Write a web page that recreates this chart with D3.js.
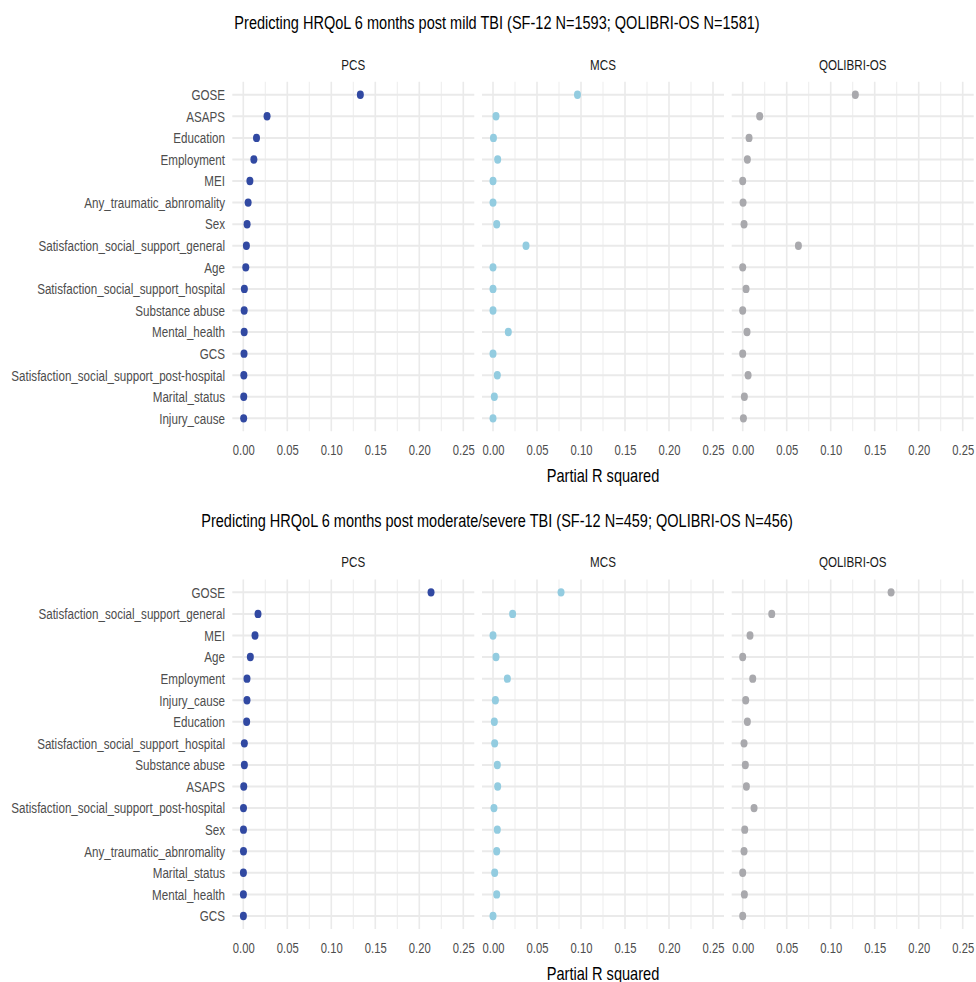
<!DOCTYPE html>
<html>
<head>
<meta charset="utf-8">
<script src="https://cdn.jsdelivr.net/npm/d3@7"></script>
<style>
  body { margin: 0; background: #ffffff; }
  text { font-family: "Liberation Sans", Arial, Helvetica, sans-serif; }
</style>
</head>
<body>
<svg id="chart" width="976" height="982"></svg>
<script>
// ---- data ----------------------------------------------------------------
const outcomes = ["PCS", "MCS", "QOLIBRI-OS"];
const xTicks = [0, 0.05, 0.10, 0.15, 0.20, 0.25];
const axisTitle = "Partial R squared";

const mildTitle = "Predicting HRQoL 6 months post mild TBI (SF-12 N=1593; QOLIBRI-OS N=1581)";
const mildPredictors = ["GOSE", "ASAPS", "Education", "Employment", "MEI",
  "Any_traumatic_abnromality", "Sex", "Satisfaction_social_support_general", "Age",
  "Satisfaction_social_support_hospital", "Substance abuse", "Mental_health", "GCS",
  "Satisfaction_social_support_post-hospital", "Marital_status", "Injury_cause"];
const mildPCS = [0.133, 0.027, 0.015, 0.012, 0.0075, 0.0055, 0.0043, 0.0035, 0.0028,
  0.0012, 0.001, 0.001, 0.0008, 0.0006, 0.0005, 0.0004];
const mildMCS = [0.096, 0.0034, 0.0005, 0.0053, 0.0, 0.0, 0.0042, 0.0375, 0.0,
  0.0, 0.0, 0.0174, 0.0, 0.0049, 0.0015, 0.0];
const mildQOL = [0.128, 0.0193, 0.0072, 0.0053, 0.0, 0.0004, 0.0015, 0.0633, 0.0,
  0.0038, 0.0, 0.0049, 0.0, 0.0061, 0.0019, 0.0008];

const sevTitle = "Predicting HRQoL 6 months post moderate/severe TBI (SF-12 N=459; QOLIBRI-OS N=456)";
const sevPredictors = ["GOSE", "Satisfaction_social_support_general", "MEI", "Age",
  "Employment", "Injury_cause", "Education", "Satisfaction_social_support_hospital",
  "Substance abuse", "ASAPS", "Satisfaction_social_support_post-hospital", "Sex",
  "Any_traumatic_abnromality", "Marital_status", "Mental_health", "GCS"];
const sevPCS = [0.2133, 0.0167, 0.0133, 0.008, 0.0042, 0.0042, 0.0038, 0.0012,
  0.0012, 0.0005, 0.0002, 0.0002, 0.0002, 0.0001, 0.0001, 0.0001];
const sevMCS = [0.0773, 0.0223, 0.0, 0.0034, 0.0163, 0.0027, 0.0015, 0.0019,
  0.0049, 0.0053, 0.0011, 0.0049, 0.0042, 0.0019, 0.0042, 0.0];
const sevQOL = [0.1686, 0.033, 0.0083, 0.0, 0.0114, 0.0034, 0.0053, 0.0015,
  0.003, 0.0042, 0.0129, 0.0023, 0.0015, 0.0, 0.0019, 0.0];

const dotColors = ["#3149A2", "#93CCE0", "#A9A9AD"];

// ---- layout --------------------------------------------------------------
const svg = d3.select("#chart");
const panelW = 242, stride = 249.7, panelLeft = 232.3;
const panelTop = 81.8, panelBottom = 431.3;

const x = d3.scaleLinear().domain([-0.0125, 0.2625]).range([0, panelW]);
const minorTicks = d3.range(0.025, 0.26, 0.05);

// lettering is drawn slightly condensed horizontally
function label(g, px, py, s, size, color, sx) {
  return g.append("text")
    .attr("transform", `translate(${px},${py}) scale(${sx},1)`)
    .attr("text-anchor", "middle")
    .attr("font-size", size)
    .attr("fill", color)
    .text(s);
}

function drawBlock(title, predictors, series, top) {
  const g = svg.append("g").attr("transform", `translate(0,${top})`);
  const y = d3.scalePoint().domain(predictors).range([panelTop, panelBottom]).padding(0.6);

  label(g, 497, 29, title, 18.5, "#000000", 0.785);

  outcomes.forEach((name, i) => {
    const p = g.append("g").attr("transform", `translate(${panelLeft + i * stride},0)`);

    // grid
    p.selectAll("line.minor").data(minorTicks).join("line")
      .attr("x1", d => x(d)).attr("x2", d => x(d))
      .attr("y1", panelTop).attr("y2", panelBottom)
      .attr("stroke", "#EEEEEE").attr("stroke-width", 1.1);
    p.selectAll("line.major").data(xTicks).join("line")
      .attr("x1", d => x(d)).attr("x2", d => x(d))
      .attr("y1", panelTop).attr("y2", panelBottom)
      .attr("stroke", "#EAEAEA").attr("stroke-width", 1.6);
    p.selectAll("line.row").data(predictors).join("line")
      .attr("x1", 0).attr("x2", panelW)
      .attr("y1", d => y(d)).attr("y2", d => y(d))
      .attr("stroke", "#EAEAEA").attr("stroke-width", 2);

    // facet strip
    label(p, panelW / 2, 69.5, name, 14.5, "#1A1A1A", 0.8);

    // points
    p.selectAll("ellipse").data(predictors.map((d, k) => ({ d, v: series[i][k] }))).join("ellipse")
      .attr("cx", d => x(d.v)).attr("cy", d => y(d.d))
      .attr("rx", 3.5).attr("ry", 4.2)
      .attr("fill", dotColors[i]);

    // x axis
    const ax = p.append("g").attr("transform", `translate(0,${panelBottom})`)
      .call(d3.axisBottom(x).tickValues(xTicks).tickFormat(d3.format(".2f"))
        .tickSize(0).tickPadding(13.5));
    ax.select(".domain").remove();
    ax.selectAll("text")
      .attr("transform", "scale(0.775,1)")
      .attr("font-size", 14.5).attr("fill", "#4D4D4D")
      .attr("font-family", "Liberation Sans, Arial, sans-serif");
  });

  // y axis (predictor names)
  const ay = g.append("g").attr("transform", `translate(${panelLeft},0)`)
    .call(d3.axisLeft(y).tickSize(0).tickPadding(9.4));
  ay.select(".domain").remove();
  ay.selectAll("text")
    .attr("transform", "scale(0.775,1)")
    .attr("font-size", 15).attr("fill", "#4D4D4D")
    .attr("font-family", "Liberation Sans, Arial, sans-serif");

  label(g, panelLeft + (2 * stride + panelW) / 2, 482, axisTitle, 18, "#000000", 0.81);
}

drawBlock(mildTitle, mildPredictors, [mildPCS, mildMCS, mildQOL], 0);
drawBlock(sevTitle, sevPredictors, [sevPCS, sevMCS, sevQOL], 497.6);
</script>
</body>
</html>
